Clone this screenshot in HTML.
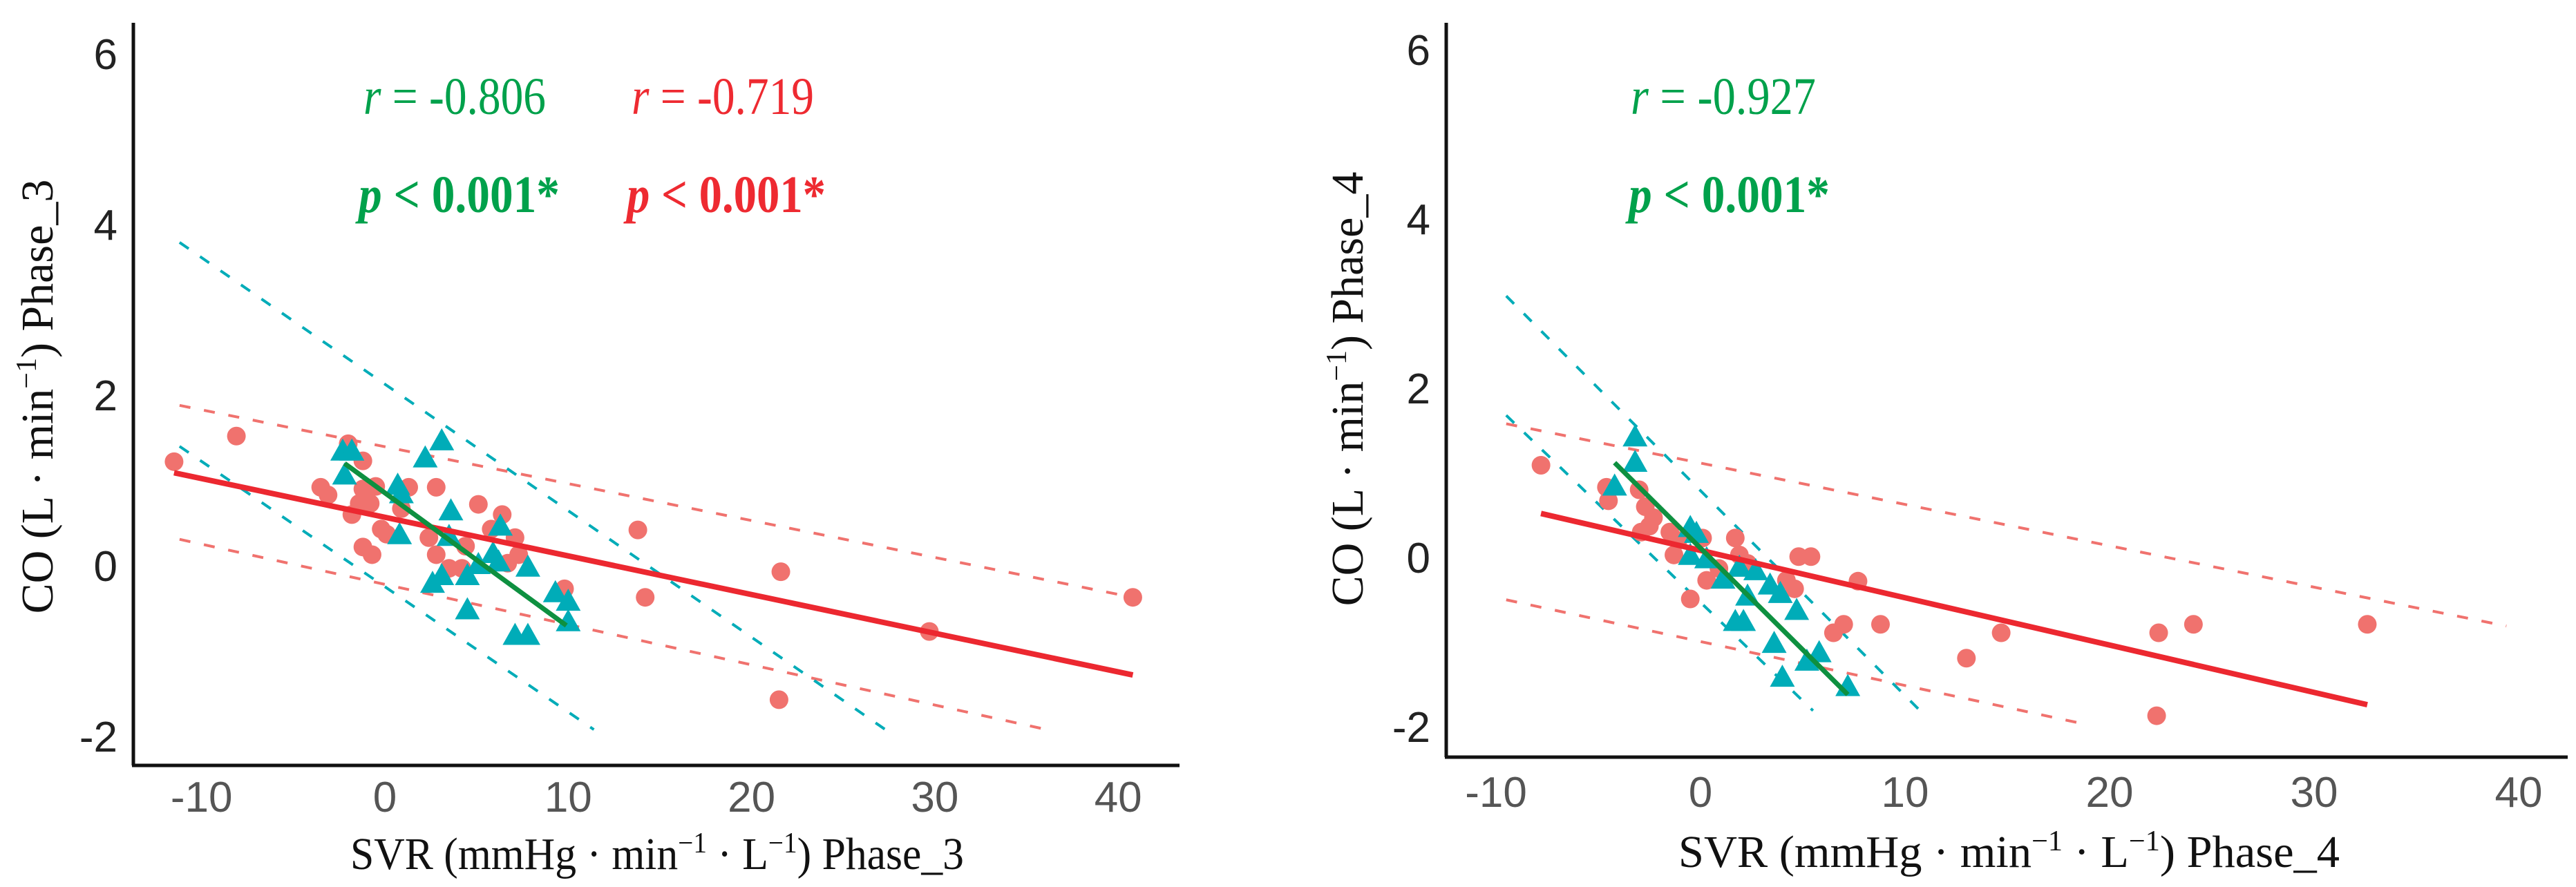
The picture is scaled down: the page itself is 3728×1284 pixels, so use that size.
<!DOCTYPE html>
<html><head><meta charset="utf-8">
<style>
html,body{margin:0;padding:0;background:#fff;}
svg{display:block;}
</style></head>
<body>
<svg id="chart" xmlns="http://www.w3.org/2000/svg" width="3728" height="1284" viewBox="0 0 3728 1284">
<rect width="3728" height="1284" fill="#fff"/>
</svg>
<script>
// ---------- Data: Phase 3 ----------
const p3CircleX = [-11.5,-8.1,-3.5,-3.1,-2.0,-1.2,-1.2,-0.5,-1.4,-1.8,-0.8,-0.2,0.1,-1.2,-0.7,1.3,2.8,0.9,2.4,2.8,3.5,4.4,5.1,5.8,6.4,7.1,7.3,6.7,9.8,13.8,14.2,21.6,21.5,29.7,40.8,4.2];
const p3CircleY = [1.22,1.52,0.92,0.83,1.43,1.23,0.9,0.93,0.73,0.6,0.73,0.43,0.37,0.22,0.13,0.92,0.92,0.67,0.33,0.13,-0.03,0.23,0.72,0.43,0.6,0.33,0.13,0.03,-0.27,0.42,-0.37,-0.07,-1.57,-0.77,-0.37,-0.03];
const p3TriX = [-2.3,-1.8,-2.2,0.7,0.9,0.8,3.1,2.2,3.6,3.5,2.6,3.1,4.5,4.5,5.1,5.9,6.2,6.3,7.8,9.3,10.0,10.0,7.1,7.8];
const p3TriY = [1.33,1.33,1.05,0.93,0.83,0.35,1.45,1.25,0.63,0.33,-0.22,-0.13,-0.13,-0.53,0.0,0.13,0.03,0.45,-0.03,-0.33,-0.43,-0.67,-0.83,-0.83];
const p3RedFitX = [-11.5,40.8], p3RedFitY = [1.09,-1.28];
const p3RedUpX = [-11.2,40.8], p3RedUpY = [1.88,-0.37];
const p3RedLoX = [-11.2,36.1], p3RedLoY = [0.31,-1.92];
const p3GreenFitX = [-2.2,9.9], p3GreenFitY = [1.2,-0.7];
const p3TealUpX = [-11.2,27.3], p3TealUpY = [3.79,-1.92];
const p3TealLoX = [-11.2,11.4], p3TealLoY = [1.4,-1.92];
// ---------- Data: Phase 4 ----------
const p4CircleX = [-7.8,-4.6,-4.5,-3.0,-2.7,-2.3,-2.9,-2.5,-1.5,-1.1,0.1,-1.3,-0.5,0.3,1.7,1.9,0.9,4.8,5.4,4.2,4.6,7.7,7.0,6.5,8.8,13.0,14.7,22.4,24.1,22.3,32.6,2.3];
const p4CircleY = [1.09,0.83,0.67,0.8,0.6,0.47,0.3,0.37,0.3,0.2,0.23,0.03,-0.49,-0.27,0.23,0.03,-0.13,0.01,0.01,-0.27,-0.37,-0.28,-0.79,-0.89,-0.79,-1.19,-0.89,-0.89,-0.79,-1.87,-0.79,-0.07];
const p4TriX = [-3.2,-3.2,-4.2,-0.5,-0.2,-0.5,0.3,1.1,1.9,2.7,2.3,3.4,3.9,4.7,1.7,2.1,3.6,5.8,5.2,4.0,7.2];
const p4TriY = [1.41,1.11,0.83,0.34,0.27,0.01,-0.03,-0.27,-0.13,-0.17,-0.47,-0.34,-0.44,-0.64,-0.77,-0.77,-1.03,-1.14,-1.24,-1.43,-1.54];
const p4RedFitX = [-7.8,32.6], p4RedFitY = [0.52,-1.74];
const p4RedUpX = [-9.5,39.4], p4RedUpY = [1.58,-0.81];
const p4RedLoX = [-9.5,18.8], p4RedLoY = [-0.5,-1.97];
const p4GreenFitX = [-4.2,7.2], p4GreenFitY = [1.12,-1.62];
const p4TealUpX = [-9.5,10.9], p4TealUpY = [3.09,-1.85];
const p4TealLoX = [-9.5,5.5], p4TealLoY = [1.68,-1.81];
// ---------- Ticks ----------
const xTickValues = [-10,0,10,20,30,40];
const xTickLabels = ["-10","0","10","20","30","40"];
const yTickValues = [6,4,2,0,-2];
const yTickLabels = ["6","4","2","0","-2"];

const NS = "http://www.w3.org/2000/svg";
const svg = document.getElementById("chart");
function mk(tag, attrs, parent){
  const e = document.createElementNS(NS, tag);
  for (const k in attrs) e.setAttribute(k, attrs[k]);
  (parent||svg).appendChild(e);
  return e;
}
const RED_PT="#F0726E", TEAL="#00ACB8", RED_LINE="#EC2830", GREEN="#0E9040";

function panel(cfg){
  const g = mk("g",{});
  
  
  const sx = v => cfg.x0 + cfg.xs*v;
  const sy = v => cfg.y0 - cfg.ys*v;
  const ya = mk("line",{x1:cfg.axL,y1:cfg.axT,x2:cfg.axL,y2:cfg.axB,stroke:"#111","stroke-width":5},g);
  
  
  const xa = mk("line",{x1:cfg.axL-2,y1:cfg.axB,x2:cfg.axR,y2:cfg.axB,stroke:"#111","stroke-width":5},g);
  
  
  xTickValues.forEach((v,i)=>{
    const t = mk("text",{x:sx(v),y:cfg.xTickY,"text-anchor":"middle","font-family":"Liberation Sans Narrow, Liberation Sans, sans-serif","font-size":62,fill:"#555"},g);
    t.textContent = xTickLabels[i];
    
    
  });
  yTickValues.forEach((v,i)=>{
    const t = mk("text",{x:cfg.yTickX,y:sy(v)+22,"text-anchor":"end","font-family":"Liberation Sans Narrow, Liberation Sans, sans-serif","font-size":62,fill:"#222"},g);
    t.textContent = yTickLabels[i];
    
    
  });
  function seg(xs,ys,color,w,dash,name){
    const l = mk("line",{x1:sx(xs[0]),y1:sy(ys[0]),x2:sx(xs[1]),y2:sy(ys[1]),stroke:color,"stroke-width":w},g);
    if(dash) l.setAttribute("stroke-dasharray",dash);
    
    
  }
  seg(cfg.redUpX,cfg.redUpY,RED_PT,4,"16 20","red-upper-prediction-band");
  seg(cfg.redLoX,cfg.redLoY,RED_PT,4,"16 20","red-lower-prediction-band");
  seg(cfg.tealUpX,cfg.tealUpY,TEAL,4,"16 20","teal-upper-prediction-band");
  seg(cfg.tealLoX,cfg.tealLoY,TEAL,4,"16 20","teal-lower-prediction-band");
  cfg.cx.forEach((v,i)=>{
    const c = mk("circle",{cx:sx(v),cy:sy(cfg.cy[i]),r:13.5,fill:RED_PT},g);
    
    
  });
  cfg.tx.forEach((v,i)=>{
    const X=sx(v), Y=sy(cfg.ty[i]);
    const p = mk("polygon",{points:`${X},${Y-20} ${X-18},${Y+12} ${X+18},${Y+12}`,fill:TEAL},g);
    
    
  });
  seg(cfg.redFitX,cfg.redFitY,RED_LINE,8,null,"red-regression-line");
  seg(cfg.greenFitX,cfg.greenFitY,GREEN,7,null,"green-regression-line");
  cfg.ann.forEach(a=>{
    const t = mk("text",{x:a.x,y:a.y,"font-family":"Liberation Serif, serif","font-size":76,fill:a.c,"font-weight":a.b?"bold":"normal",textLength:a.w,lengthAdjust:"spacingAndGlyphs"},g);
    const it = mk("tspan",{"font-style":"italic"},t); it.textContent = a.v;
    const rest = mk("tspan",{},t); rest.textContent = a.t;
    
    
  });
  const xt = mk("text",{x:cfg.xtX,y:cfg.xtY,"font-family":"Liberation Serif, serif","font-size":66,fill:"#111",textLength:cfg.xtW,lengthAdjust:"spacingAndGlyphs"},g);
  xt.innerHTML = 'SVR (mmHg · min<tspan dy="-24" font-size="42">−1</tspan><tspan dy="24"> · L</tspan><tspan dy="-24" font-size="42">−1</tspan><tspan dy="24">) '+cfg.phase+'</tspan>';
  
  
  const yt = mk("text",{x:0,y:0,"font-family":"Liberation Serif, serif","font-size":66,fill:"#111","text-anchor":"middle",transform:`translate(${cfg.ytX},${cfg.ytY}) rotate(-90)`},g);
  yt.innerHTML = 'CO (L · min<tspan dy="-24" font-size="42">−1</tspan><tspan dy="24">) '+cfg.phase+'</tspan>';
  
  
}

panel({name:"phase3-panel",phase:"Phase_3",x0:557,xs:26.53,y0:819,ys:123.5,axL:193,axT:33,axB:1108,axR:1707,
  xTickY:1175,yTickX:170,
  cx:p3CircleX,cy:p3CircleY,tx:p3TriX,ty:p3TriY,
  redFitX:p3RedFitX,redFitY:p3RedFitY,redUpX:p3RedUpX,redUpY:p3RedUpY,redLoX:p3RedLoX,redLoY:p3RedLoY,
  greenFitX:p3GreenFitX,greenFitY:p3GreenFitY,tealUpX:p3TealUpX,tealUpY:p3TealUpY,tealLoX:p3TealLoX,tealLoY:p3TealLoY,
  ann:[{x:526,y:165,w:264,c:"#00A14B",v:"r",t:" = -0.806",n:"green-r-annotation"},
       {x:914,y:165,w:264,c:"#EE2A31",v:"r",t:" = -0.719",n:"red-r-annotation"},
       {x:519,y:307,w:291,c:"#00A14B",v:"p",t:" < 0.001*",b:1,n:"green-p-annotation"},
       {x:907,y:307,w:288,c:"#EE2A31",v:"p",t:" < 0.001*",b:1,n:"red-p-annotation"}],
  xtX:507,xtY:1258,xtW:888,ytX:76,ytY:574});

panel({name:"phase4-panel",phase:"Phase_4",x0:2461,xs:29.6,y0:807,ys:122.5,axL:2093,axT:33,axB:1096,axR:3716,
  xTickY:1168,yTickX:2070,
  cx:p4CircleX,cy:p4CircleY,tx:p4TriX,ty:p4TriY,
  redFitX:p4RedFitX,redFitY:p4RedFitY,redUpX:p4RedUpX,redUpY:p4RedUpY,redLoX:p4RedLoX,redLoY:p4RedLoY,
  greenFitX:p4GreenFitX,greenFitY:p4GreenFitY,tealUpX:p4TealUpX,tealUpY:p4TealUpY,tealLoX:p4TealLoX,tealLoY:p4TealLoY,
  ann:[{x:2360,y:165,w:268,c:"#00A14B",v:"r",t:" = -0.927",n:"green-r-annotation"},
       {x:2357,y:307,w:291,c:"#00A14B",v:"p",t:" < 0.001*",b:1,n:"green-p-annotation"}],
  xtX:2429,xtY:1255,xtW:957,ytX:1972,ytY:563});
</script>
</body></html>
